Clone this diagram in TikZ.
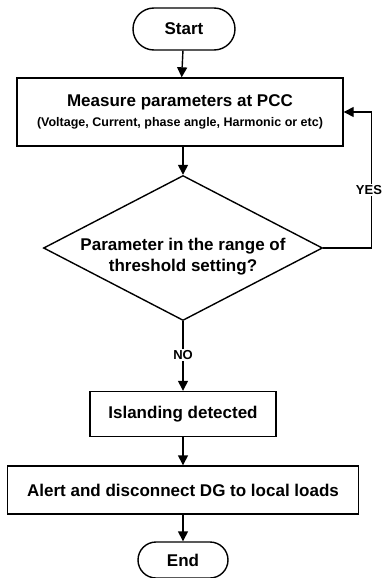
\documentclass[tikz,border=0pt]{standalone}
\usepackage{fontspec}
\setmainfont{Liberation Sans}
\usetikzlibrary{shapes.geometric,arrows.meta}

\tikzset{
  term/.style={draw, line width=1.4pt, font=\bfseries\fontsize{17}{19}\selectfont},
  proc/.style={draw, line width=1.4pt, align=center, font=\bfseries\fontsize{17}{19}\selectfont},
  dec/.style={draw, line width=1.4pt, diamond, inner sep=0pt},
  txt/.style={align=center, font=\bfseries\fontsize{17}{21}\selectfont},
  arr/.style={line width=1.4pt, -{Triangle[length=10pt,width=10pt]}},
  lbl/.style={fill=white, inner sep=1pt, font=\bfseries\fontsize{13}{15}\selectfont}
}

\begin{document}
\begin{tikzpicture}[x=1pt,y=-1pt]
  \useasboundingbox (0,0) rectangle (385,578);

  % nodes
  \node[term, minimum width=102pt, minimum height=42pt, rounded corners=21pt] (start) at (184,29) {Start};
  \node[proc, minimum width=326pt, minimum height=68pt] (meas) at (180,112)
    {Measure parameters at PCC\\[1pt]{\fontsize{12.5}{14}\selectfont(Voltage, Current, phase angle, Harmonic or etc)}};
  \node[dec, minimum width=279pt, minimum height=145pt] (check) at (183,248) {};
  \node[txt] (checktext) at (183,257) {Parameter in the range of\\threshold setting?};
  \node[proc, minimum width=186pt, minimum height=45pt] (island) at (183,414) {Islanding detected};
  \node[proc, minimum width=351pt, minimum height=48pt] (alert) at (183,490) {Alert and disconnect DG to local loads};
  \node[term, minimum width=90pt, minimum height=36pt, rounded corners=18pt] (stop) at (183,560) {End};

  % connectors
  \draw[arr] (start) -- (meas);
  \draw[arr] (meas.south -| check.north) -- (check.north);
  \draw[arr] (check.east) -- ++(48,0) coordinate (turn) |- (meas.east);
  \node[lbl] (yes) at (369,190) {YES};
  \draw[arr] (check.south) -- (island.north);
  \node[lbl] (no) at (183,355) {NO};
  \draw[arr] (island) -- (alert);
  \draw[arr] (alert) -- (stop);
\end{tikzpicture}
\end{document}
